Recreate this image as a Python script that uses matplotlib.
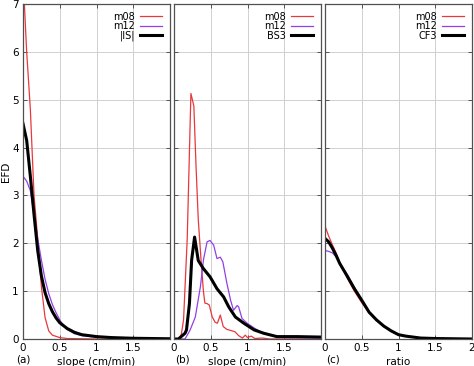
import matplotlib
matplotlib.use('Agg')
import matplotlib.pyplot as plt

### data

# (a) slope distributions
a_x08 = [0, 0.05, 0.1, 0.15, 0.2, 0.25, 0.3, 0.35, 0.4, 0.5, 0.6, 0.8, 1.0, 1.5, 2.0]
a_m08 = [7.6, 6.0, 4.8, 3.0, 2.1, 1.1, 0.45, 0.17, 0.08, 0.03, 0.01, 0.005, 0.0, 0.0, 0.0]
a_x12 = [0, 0.05, 0.1, 0.15, 0.2, 0.25, 0.3, 0.35, 0.4, 0.45, 0.5, 0.55, 0.6, 0.7, 0.8, 1.0, 1.5, 2.0]
a_m12 = [3.4, 3.3, 3.1, 2.6, 2.1, 1.65, 1.25, 0.95, 0.72, 0.55, 0.4, 0.28, 0.2, 0.11, 0.07, 0.04, 0.01, 0.0]
a_xis = [0, 0.05, 0.1, 0.15, 0.2, 0.25, 0.3, 0.35, 0.4, 0.45, 0.5, 0.6, 0.7, 0.8, 1.0, 1.2, 1.5, 2.0]
a_is = [4.5, 4.15, 3.4, 2.6, 1.85, 1.32, 0.97, 0.74, 0.57, 0.44, 0.34, 0.22, 0.14, 0.09, 0.05, 0.03, 0.015, 0.005]

# (b) slope distributions
b_x08 = [0, 0.05, 0.08, 0.1, 0.13, 0.18, 0.23, 0.27, 0.3, 0.33, 0.37, 0.4, 0.42, 0.45, 0.48,
         0.52, 0.56, 0.59, 0.63, 0.67, 0.72, 0.77, 0.83, 0.88, 0.93, 0.97, 1.0, 1.05, 1.1,
         1.2, 1.3, 2.0]
b_m08 = [0, 0, 0.02, 0.1, 0.4, 2.1, 5.13, 4.87, 3.6, 2.5, 1.6, 1.0, 0.75, 0.74, 0.71,
         0.46, 0.35, 0.33, 0.5, 0.26, 0.2, 0.18, 0.15, 0.07, 0.02, 0.08, 0.03, 0.06, 0.01,
         0.02, 0.0, 0.0]
b_x12 = [0, 0.15, 0.22, 0.29, 0.36, 0.4, 0.45, 0.49, 0.54, 0.585, 0.63, 0.665, 0.72, 0.77,
         0.81, 0.86, 0.88, 0.925, 0.995, 1.09, 1.18, 1.33, 1.5, 2.0]
b_m12 = [0, 0, 0.19, 0.46, 1.1, 1.65, 2.03, 2.06, 1.96, 1.68, 1.71, 1.61, 1.16, 0.81,
         0.6, 0.7, 0.67, 0.43, 0.33, 0.23, 0.15, 0.08, 0.03, 0.02]
b_xbs = [0, 0.06, 0.15, 0.17, 0.21, 0.24, 0.28, 0.33, 0.4, 0.49, 0.585, 0.675, 0.745,
         0.835, 0.95, 1.09, 1.22, 1.4, 1.67, 2.0]
b_bs3 = [0, 0.0, 0.12, 0.19, 0.74, 1.65, 2.13, 1.64, 1.47, 1.3, 1.05, 0.88, 0.67,
         0.46, 0.33, 0.19, 0.12, 0.05, 0.05, 0.04]

# (c) ratio distributions
c_x = [0, 0.05, 0.1, 0.15, 0.2, 0.3, 0.4, 0.5, 0.6, 0.7, 0.8, 0.9, 1.0, 1.1, 1.2, 1.3, 1.5, 2.0]
c_m08 = [2.36, 2.15, 1.97, 1.8, 1.6, 1.28, 1.0, 0.76, 0.55, 0.39, 0.26, 0.16, 0.09, 0.06, 0.04, 0.02, 0.01, 0.0]
c_m12 = [1.85, 1.83, 1.8, 1.72, 1.58, 1.35, 1.08, 0.82, 0.57, 0.4, 0.27, 0.17, 0.09, 0.06, 0.04, 0.02, 0.01, 0.0]
c_cf3 = [2.1, 2.03, 1.9, 1.75, 1.58, 1.32, 1.05, 0.81, 0.56, 0.4, 0.27, 0.17, 0.09, 0.06, 0.04, 0.02, 0.01, 0.0]

x_ticks_ab = [0, 0.5, 1, 1.5]
x_ticks_c = [0, 0.5, 1, 1.5, 2]
y_ticks = [0, 1, 2, 3, 4, 5, 6, 7]

### style

RED = '#e8383d'
PURPLE = '#9140e8'
BLACK = 'black'
FS = 7.5

fig = plt.figure(figsize=(4.74, 3.66), dpi=100)
W, H = 474.0, 366.0

panels = [
	(23, 'slope (cm/min)', '(a)', '|IS|', (a_x08, a_m08), (a_x12, a_m12), (a_xis, a_is), x_ticks_ab),
	(174, 'slope (cm/min)', '(b)', 'BS3', (b_x08, b_m08), (b_x12, b_m12), (b_xbs, b_bs3), x_ticks_ab),
	(325, 'ratio', '(c)', 'CF3', (c_x, c_m08), (c_x, c_m12), (c_x, c_cf3), x_ticks_c),
]

for i, (left, xlabel, tag, name, s08, s12, sbk, xt) in enumerate(panels):
	ax = fig.add_axes([left / W, 27 / H, 147 / W, 335 / H])
	ax.plot(*s08, color=RED, lw=0.9, label='m08')
	ax.plot(*s12, color=PURPLE, lw=0.9, label='m12')
	ax.plot(*sbk, color=BLACK, lw=2.2, label=name)
	ax.set_xlim(0, 2)
	ax.set_ylim(0, 7)
	ax.set_xticks(xt)
	ax.set_xticklabels([f'{t:g}' for t in xt], fontsize=FS)
	ax.set_yticks(y_ticks)
	if i == 0:
		ax.set_yticklabels([str(t) for t in y_ticks], fontsize=FS)
		ax.set_ylabel('EFD', fontsize=FS, labelpad=1)
	else:
		ax.set_yticklabels([])
	ax.grid(True, color='#d0d0d0', lw=0.7)
	ax.set_axisbelow(True)
	ax.tick_params(direction='in', length=3, width=0.7, top=True, right=True,
				   color='#505050', pad=3)
	for sp in ax.spines.values():
		sp.set_color('#505050')
		sp.set_linewidth(0.9)
	ax.set_xlabel(xlabel, fontsize=FS, labelpad=3)
	ax.text(left / W - 0.015 if i == 0 else left / W + 0.002, 0.005, tag,
			transform=fig.transFigure, fontsize=FS, va='bottom', ha='left')
	leg = ax.legend(loc='upper right', frameon=False, markerfirst=False, fontsize=7,
					handlelength=2.3, handletextpad=0.5, labelspacing=-0.05,
					borderpad=0.2, borderaxespad=0.6)
	for t in leg.get_texts():
		t.set_ha('right')

fig.savefig('out.png', dpi=100)
